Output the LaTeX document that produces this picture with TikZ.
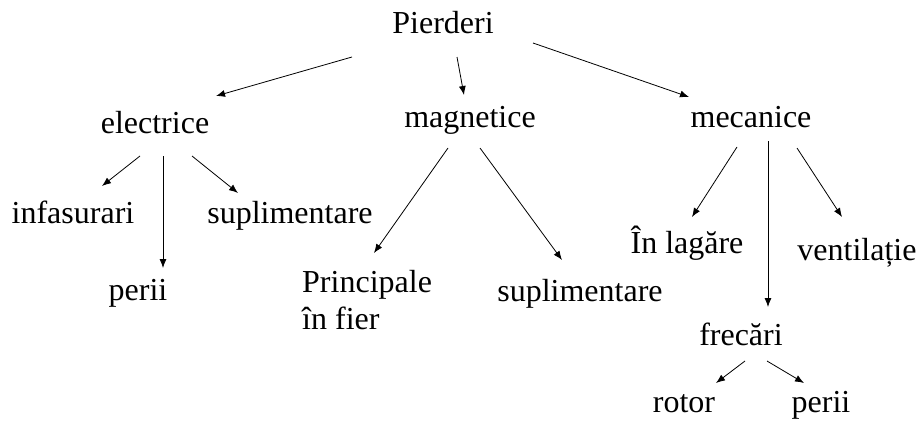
\documentclass[tikz,border=0pt]{standalone}
\usepackage{fontspec}
\setmainfont{Liberation Serif}
\usetikzlibrary{arrows.meta}
\begin{document}
\begin{tikzpicture}[x=1pt,y=-1pt,
  lbl/.style={inner sep=0pt,anchor=base,font=\fontsize{32}{37}\selectfont},
  arr/.style={line width=0.8pt,-{Latex[length=9pt,width=7pt]}}]
\useasboundingbox[fill=white] (0,0) rectangle (922,423);
\node[lbl] (P) at (443,33) {Pierderi};
\node[lbl] (E) at (155,133) {electrice};
\node[lbl] (M) at (470,127) {magnetice};
\node[lbl] (Mec) at (751,127) {mecanice};
\node[lbl] (Inf) at (73,223) {infasurari};
\node[lbl] (PeriL) at (138,300) {perii};
\node[lbl] (SupL) at (290,223) {suplimentare};
\node[lbl,anchor=north west,align=left] (Princ) at (302,270) {Principale\\în fier};
\node[lbl] (SupM) at (580,301) {suplimentare};
\node[lbl] (Lag) at (687,253) {În lagăre};
\node[lbl] (Vent) at (857,260) {ventilație};
\node[lbl] (Frec) at (741,345) {frecări};
\node[lbl] (Rotor) at (684,412) {rotor};
\node[lbl] (PeriR) at (821,412) {perii};

\draw[arr] ([shift={(-91,24)}]P.base) -- ([shift={(61,-37)}]E.base);
\draw[arr] ([shift={(14,24)}]P.base) -- ([shift={(-6,-32)}]M.base);
\draw[arr] ([shift={(90,10)}]P.base) -- ([shift={(-62,-30)}]Mec.base);
\draw[arr] ([shift={(-15,23)}]E.base) -- ([shift={(29,-37)}]Inf.base);
\draw[arr] ([shift={(8,23)}]E.base) -- ([shift={(25,-32)}]PeriL.base);
\draw[arr] ([shift={(37,23)}]E.base) -- ([shift={(-52,-30)}]SupL.base);
\draw[arr] ([shift={(-22,21)}]M.base) -- ([shift={(72,-17)}]Princ.north west);
\draw[arr] ([shift={(10,21)}]M.base) -- ([shift={(-18,-41)}]SupM.base);
\draw[arr] ([shift={(-14,20)}]Mec.base) -- ([shift={(5,-36)}]Lag.base);
\draw[arr] ([shift={(17,14)}]Mec.base) -- ([shift={(27,-38)}]Frec.base);
\draw[arr] ([shift={(46,21)}]Mec.base) -- ([shift={(-15,-43)}]Vent.base);
\draw[arr] ([shift={(4,16)}]Frec.base) -- ([shift={(32,-29)}]Rotor.base);
\draw[arr] ([shift={(26,16)}]Frec.base) -- ([shift={(-17,-29)}]PeriR.base);
\end{tikzpicture}
\end{document}
